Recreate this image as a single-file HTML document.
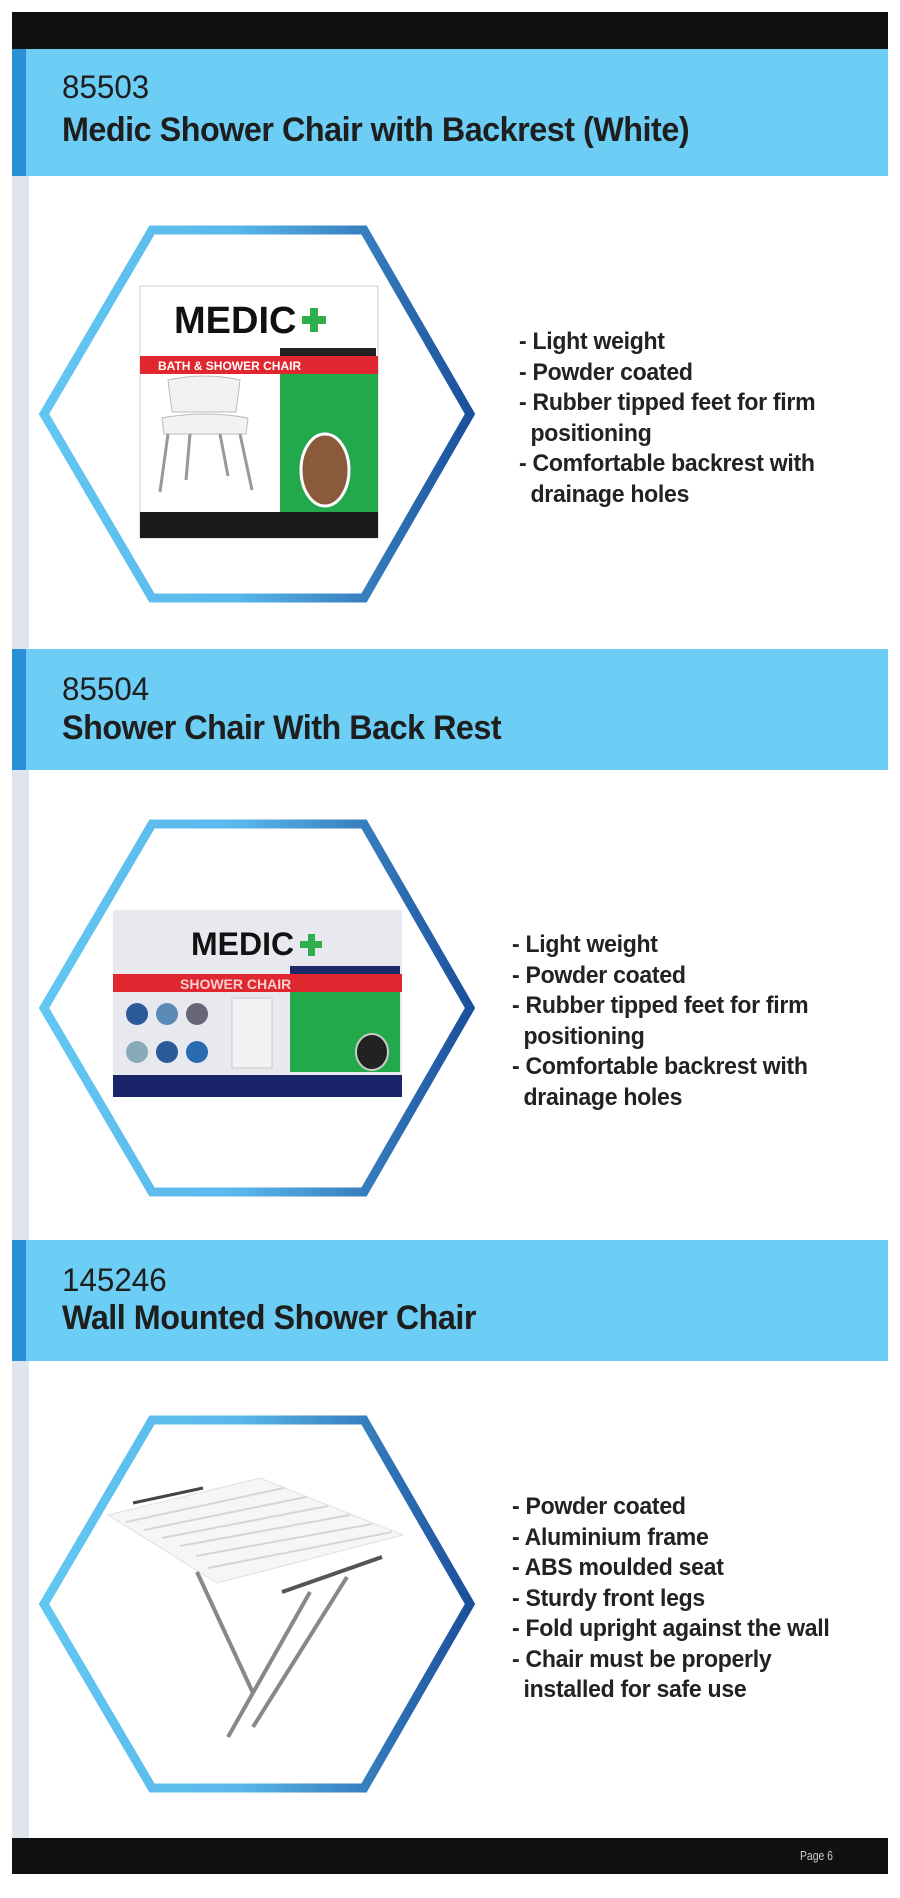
<!DOCTYPE html>
<html><head><meta charset="utf-8"><style>
*{margin:0;padding:0;box-sizing:border-box}
body{width:900px;height:1898px;background:#fff;position:relative;overflow:hidden;font-family:"Liberation Sans",sans-serif}
.abs{position:absolute}
.hdr{position:absolute;left:12px;width:876px;background:#6ccdf5}
.hdr .strip{position:absolute;left:0;top:0;bottom:0;width:14px;background:#2b8fd6}
.code{position:absolute;left:50px;font-size:32px;color:#1e1e1e;transform:scaleX(0.98);transform-origin:left}
.title{position:absolute;left:50px;font-size:34px;font-weight:bold;color:#1e1e1e;transform:scaleX(0.95);transform-origin:left;white-space:nowrap;letter-spacing:-0.5px}
.list{position:absolute;font-size:24px;font-weight:bold;color:#222;line-height:30.5px;transform:scaleX(0.96);transform-origin:left;white-space:nowrap;letter-spacing:-0.3px}
.list div{padding-left:12px;text-indent:-12px}
</style></head><body>
<div class="abs" style="left:12px;top:12px;width:876px;height:37px;background:#111"></div>
<div class="abs" style="left:12px;top:49px;width:17px;height:1789px;background:#dfe5ec"></div>

<div class="hdr" style="top:49px;height:127px"><div class="strip"></div>
<div class="code" style="top:20px">85503</div>
<div class="title" style="top:62px">Medic Shower Chair with Backrest (White)</div></div>

<div class="hdr" style="top:649px;height:121px"><div class="strip"></div>
<div class="code" style="top:22px">85504</div>
<div class="title" style="top:60px">Shower Chair With Back Rest</div></div>

<div class="hdr" style="top:1240px;height:121px"><div class="strip"></div>
<div class="code" style="top:22px">145246</div>
<div class="title" style="top:59px">Wall Mounted Shower Chair</div></div>

<div class="abs" style="left:12px;top:1838px;width:876px;height:36px;background:#111"></div>
<div class="abs" style="left:800px;top:1848px;font-size:13px;color:#ccc;transform:scaleX(0.8);transform-origin:left">Page 6</div>

<svg class="abs" style="left:0;top:0" width="900" height="1898">
<defs>
<linearGradient id="g" x1="0" x2="1" y1="0" y2="0">
<stop offset="0" stop-color="#62c6f2"/><stop offset="0.45" stop-color="#5ab8ea"/><stop offset="1" stop-color="#1a4f9c"/>
</linearGradient>
</defs>
<polygon points="44,414 152,230 364,230 470,414 364,598 152,598" fill="#fff" stroke="url(#g)" stroke-width="9"/>
<polygon points="44,1008 152,824 364,824 470,1008 364,1192 152,1192" fill="#fff" stroke="url(#g)" stroke-width="9"/>
<polygon points="44,1604 152,1420 364,1420 470,1604 364,1788 152,1788" fill="#fff" stroke="url(#g)" stroke-width="9"/>

<!-- box 1 -->
<rect x="140" y="286" width="238" height="252" fill="#fff" stroke="#ccc"/>
<text x="174" y="333" font-size="38" font-weight="bold" fill="#111" font-family="Liberation Sans">MEDIC</text>
<rect x="310" y="308" width="8" height="24" fill="#2fae4e"/><rect x="302" y="316" width="24" height="8" fill="#2fae4e"/>
<rect x="280" y="348" width="96" height="8" fill="#222"/>
<rect x="140" y="356" width="238" height="18" fill="#e0262e"/>
<text x="158" y="370" font-size="12" font-weight="bold" fill="#fff" font-family="Liberation Sans">BATH &amp; SHOWER CHAIR</text>
<rect x="280" y="374" width="98" height="138" fill="#22a94b"/>
<ellipse cx="325" cy="470" rx="24" ry="36" fill="#8a5a3a" stroke="#fff" stroke-width="3"/>
<path d="M168 380 Q205 372 240 380 L236 412 L172 412Z M162 418 Q205 410 248 418 L246 434 L164 434Z" fill="#f2f2f2" stroke="#bbb"/>
<path d="M168 434 L160 492 M240 434 L252 490 M190 434 L186 480 M220 434 L228 476" stroke="#999" stroke-width="3"/>
<rect x="140" y="512" width="238" height="26" fill="#1a1a1a"/>

<!-- box 2 -->
<rect x="113" y="910" width="289" height="187" fill="#e8e9ee"/>
<text x="191" y="955" font-size="32" font-weight="bold" fill="#111" font-family="Liberation Sans">MEDIC</text>
<rect x="308" y="934" width="7" height="22" fill="#2fae4e"/><rect x="300" y="941" width="22" height="7" fill="#2fae4e"/>
<rect x="290" y="966" width="110" height="8" fill="#1d2a6a"/>
<rect x="113" y="974" width="289" height="18" fill="#e0262e"/>
<text x="180" y="989" font-size="14" font-weight="bold" fill="#f6d0d0" font-family="Liberation Sans">SHOWER CHAIR</text>
<rect x="290" y="992" width="110" height="80" fill="#22a94b"/>
<circle cx="137" cy="1014" r="11" fill="#2a5a9a"/><circle cx="167" cy="1014" r="11" fill="#5a8ab5"/><circle cx="197" cy="1014" r="11" fill="#667"/>
<circle cx="137" cy="1052" r="11" fill="#8ab"/><circle cx="167" cy="1052" r="11" fill="#2a5a9a"/><circle cx="197" cy="1052" r="11" fill="#2a6ab0"/>
<rect x="232" y="998" width="40" height="70" fill="#f2f2f2" stroke="#ccc"/>
<ellipse cx="372" cy="1052" rx="16" ry="18" fill="#222" stroke="#ccc" stroke-width="2"/>
<rect x="113" y="1075" width="289" height="22" fill="#1a2468"/>

<!-- chair 3 -->
<g>
<path d="M108 1515 L260 1478 L403 1535 L217 1583 Z" fill="#f6f6f6" stroke="#e0e0e0"/>
<path d="M126 1522 L284 1488 M144 1530 L306 1497 M162 1538 L328 1506 M180 1546 L350 1515 M196 1556 L372 1524 M208 1568 L392 1532" stroke="#d6d6d6" stroke-width="2"/>
<path d="M133 1503 L203 1488" stroke="#444" stroke-width="3"/>
<path d="M197 1572 L253 1693 M310 1592 L228 1737 M347 1577 L253 1727" stroke="#888" stroke-width="4" fill="none"/>
<path d="M282 1592 L382 1557" stroke="#555" stroke-width="4"/>
</g>
</svg>

<div class="list" style="left:519px;top:327px">
<div>- Light weight</div><div>- Powder coated</div><div>- Rubber tipped feet for firm<br>positioning</div><div>- Comfortable backrest with<br>drainage holes</div>
</div>
<div class="list" style="left:512px;top:930px">
<div>- Light weight</div><div>- Powder coated</div><div>- Rubber tipped feet for firm<br>positioning</div><div>- Comfortable backrest with<br>drainage holes</div>
</div>
<div class="list" style="left:512px;top:1492px">
<div>- Powder coated</div><div>- Aluminium frame</div><div>- ABS moulded seat</div><div>- Sturdy front legs</div><div>- Fold upright against the wall</div><div>- Chair must be properly<br>installed for safe use</div>
</div>
</body></html>
